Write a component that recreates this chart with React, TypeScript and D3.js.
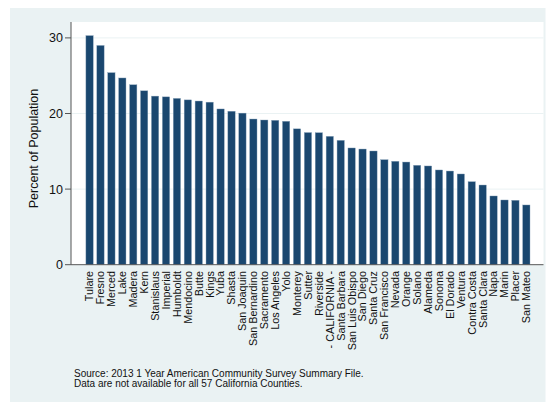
import React from "react";
import * as d3 from "d3";

const counties = [
  "Tulare", "Fresno", "Merced", "Lake", "Madera", "Kern", "Stanislaus", "Imperial",
  "Humboldt", "Mendocino", "Butte", "Kings", "Yuba", "Shasta", "San Joaquin",
  "San Bernardino", "Sacramento", "Los Angeles", "Yolo", "Monterey", "Sutter",
  "Riverside", "- CALIFORNIA -", "Santa Barbara", "San Luis Obispo", "San Diego",
  "Santa Cruz", "San Francisco", "Nevada", "Orange", "Solano", "Alameda", "Sonoma",
  "El Dorado", "Ventura", "Contra Costa", "Santa Clara", "Napa", "Marin", "Placer",
  "San Mateo",
];

const percents = [
  30.3, 29.0, 25.4, 24.7, 23.8, 23.0, 22.3, 22.2, 22.0, 21.8, 21.65, 21.5, 20.6,
  20.3, 20.05, 19.27, 19.14, 19.1, 18.97, 17.97, 17.48, 17.46, 16.98, 16.45, 15.44,
  15.3, 15.04, 13.89, 13.68, 13.58, 13.15, 13.06, 12.53, 12.39, 12.0, 10.98, 10.54,
  9.09, 8.56, 8.52, 7.9,
];

const yTicks = [0, 10, 20, 30];

const captionLines = [
  "Source: 2013 1 Year American Community Survey Summary File.",
  "Data are not available for all 57 California Counties.",
];

const W = 546;
const H = 402;
const font = "'Liberation Sans', Arial, Helvetica, sans-serif";

export default function App() {
  const plotLeft = 71;
  const plotRight = 543.5;
  const plotTop = 22;
  const plotBottom = 264.7;

  const y = d3.scaleLinear().domain([0, 10]).range([plotBottom, plotBottom - 75.6]);
  const x = d3
    .scaleBand<string>()
    .domain(counties)
    .range([84.1, 531.8])
    .paddingInner(0.33)
    .paddingOuter(0.165);

  return (
    <svg
      width={W}
      height={H}
      style={{ position: "absolute", left: 0, top: 0 }}
      fontFamily={font}
    >
      <rect x={0} y={0} width={W} height={H} fill="#ffffff" />
      <rect x={10} y={8} width={535.5} height={H - 8} fill="#eaf2f3" />
      <rect
        x={plotLeft}
        y={plotTop}
        width={plotRight - plotLeft}
        height={plotBottom - plotTop}
        fill="#ffffff"
      />
      {yTicks
        .filter((t) => t > 0)
        .map((t) => (
          <line
            key={"g" + t}
            x1={plotLeft}
            x2={plotRight}
            y1={y(t)}
            y2={y(t)}
            stroke="#eaf2f3"
            strokeWidth={1}
          />
        ))}
      {counties.map((c, i) => (
        <rect
          key={c}
          x={x(c)}
          y={y(percents[i])}
          width={x.bandwidth()}
          height={plotBottom - y(percents[i])}
          fill="#1a476f"
          stroke="#8aa3ba"
          strokeWidth={0.4}
        />
      ))}
      <line x1={plotLeft} x2={plotLeft} y1={plotTop} y2={plotBottom} stroke="#555" strokeWidth={1} />
      <line x1={plotLeft} x2={plotRight} y1={plotBottom} y2={plotBottom} stroke="#555" strokeWidth={1} />
      {yTicks.map((t) => (
        <g key={"t" + t}>
          <line x1={plotLeft - 6} x2={plotLeft} y1={y(t)} y2={y(t)} stroke="#555" strokeWidth={1} />
          <text
            x={plotLeft - 8}
            y={y(t)}
            dy="0.36em"
            textAnchor="end"
            fontSize={12.5}
            fill="#111"
          >
            {t}
          </text>
        </g>
      ))}
      <text
        transform={`translate(33,148.5) rotate(-90)`}
        textAnchor="middle"
        dy="0.36em"
        fontSize={12.5}
        fill="#111"
      >
        Percent of Population
      </text>
      {counties.map((c) => {
        const cx = (x(c) as number) + x.bandwidth() / 2;
        return (
          <text
            key={"l" + c}
            transform={`translate(${cx},271) rotate(-90)`}
            textAnchor="end"
            dy="0.36em"
            fontSize={10.8}
            fill="#111"
          >
            {c}
          </text>
        );
      })}
      {captionLines.map((l, i) => (
        <text key={"c" + i} x={74} y={376.5 + i * 10.5} fontSize={10} fill="#111">
          {l}
        </text>
      ))}
    </svg>
  );
}
